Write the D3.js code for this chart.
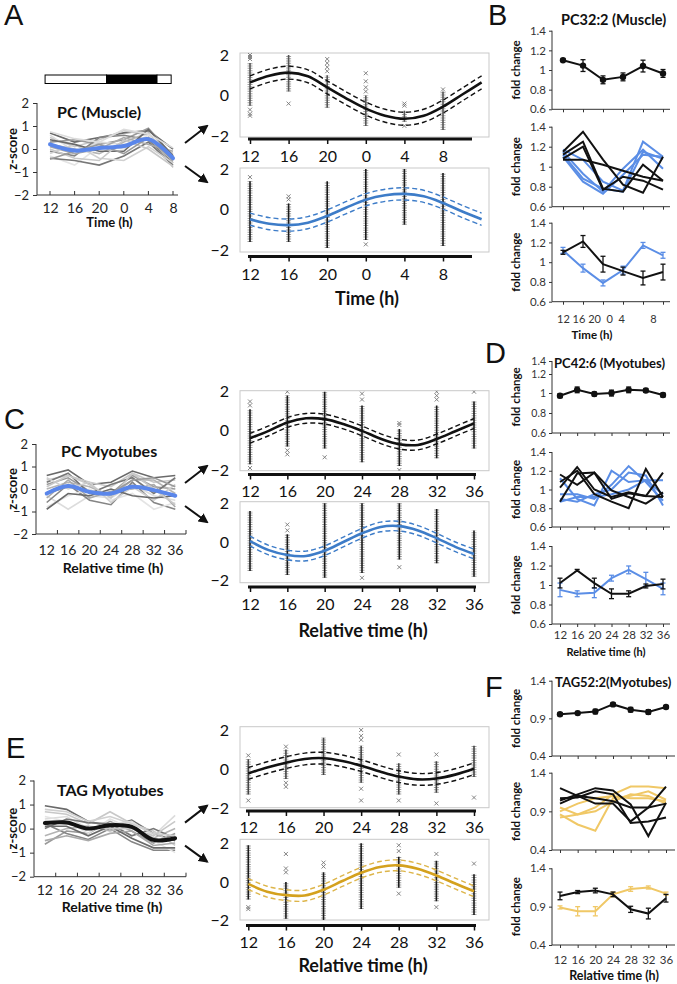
<!DOCTYPE html>
<html><head><meta charset="utf-8">
<script src="https://cdn.jsdelivr.net/npm/d3@7"></script>
<style>body{margin:0;background:#fff;} svg{display:block;}</style>
</head><body>
<script>
// ================= DATA =================
const hoursA = [12,16,20,24,28,32];
const hourLabelsA = ["12","16","20","0","4","8"];
const hoursMyo = [12,16,20,24,28,32,36];
const hourLabelsMyo = ["12","16","20","24","28","32","36"];
const fitHours = [12,14,16,18,20,22,24,26,28,30,32,34,36];

// light/dark bar (hours, relative scale of panel A)
const dayNight = [
  {phase:"light", from:11.2, to:21.2},
  {phase:"dark",  from:21.2, to:29.4},
  {phase:"light", from:29.4, to:31.7}
];

// ---- left panels: individual z-scored profiles + cluster mean ----
const grayA = [
  [0.7,0.3,0.5,0.7,0.8,0.0],[0.5,0.1,0.4,0.8,0.6,-0.2],[0.3,0.4,0.2,0.4,0.9,-0.3],
  [0.6,-0.1,0.3,0.2,0.5,-0.5],[-0.1,-0.3,0.5,0.6,0.4,-0.6],[0.2,0.0,-0.2,0.3,0.7,-0.8],
  [-0.3,-0.7,0.1,0.0,0.6,-0.4],[-0.4,-0.5,-0.7,-0.3,0.3,-0.7],[0.1,-0.2,0.0,0.5,0.2,-0.1],
  [-0.2,0.2,-0.4,-0.5,0.1,-0.6],[0.4,0.2,-0.1,-0.1,0.85,-0.3],[0.0,-0.4,-0.5,0.4,0.0,-0.75],
  [-0.45,-0.1,0.2,-0.2,0.5,-0.5],[0.75,0.45,0.3,0.85,0.65,0.05]
];
const meanA = [0.2,-0.07,0.04,0.13,0.43,-0.4];

const grayC = [
  [0.6,0.85,0.2,0.3,0.8,0.5,0.6],[0.4,0.6,0.3,0.1,0.7,0.3,0.4],[0.2,0.5,-0.1,-0.2,0.6,0.1,0.0],
  [-0.3,-0.9,-0.3,-0.4,0.2,-0.3,-0.5],[-0.6,0.2,-0.5,-0.7,0.3,-0.6,-0.9],[0.0,0.3,0.1,-0.3,0.4,0.4,-0.2],
  [-0.8,-0.3,0.0,-0.5,-0.2,-0.9,-0.6],[0.3,0.7,-0.2,0.2,0.5,-0.2,0.5],[-0.4,0.4,-0.4,-0.1,0.0,0.2,-0.8],
  [0.5,0.0,0.3,-0.6,0.1,-0.5,0.2],[-0.9,-0.2,-0.3,0.0,-0.3,-0.4,-0.3],[0.1,0.6,0.2,-0.4,0.7,0.0,-0.7],
  [-0.2,0.1,-0.1,-0.2,0.4,0.5,0.1]
];
const meanC = [-0.2,0.13,-0.13,-0.2,0.1,-0.05,-0.3];

const grayE = [
  [0.95,0.8,0.3,0.1,0.35,-0.2,-0.5],[0.7,0.6,0.2,0.7,0.2,-0.1,-0.7],[-0.65,-0.1,-0.2,0.3,-0.1,-0.6,-0.2],
  [0.4,0.5,0.0,0.2,0.3,-0.3,0.55],[0.2,-0.2,-0.45,0.0,-0.55,-0.9,-0.9],[-0.3,0.0,0.1,-0.1,0.1,-0.4,0.0],
  [0.5,0.3,-0.2,0.4,0.0,-0.5,-1.0],[0.0,0.4,0.25,0.2,-0.3,0.0,-0.4],[-0.5,-0.3,-0.5,-0.2,-0.1,-0.7,-0.6],
  [0.8,0.7,0.3,0.5,0.2,-0.2,-0.3],[0.1,0.1,-0.3,0.1,-0.4,-0.8,-0.8],[0.3,0.2,0.1,0.0,0.0,-0.3,0.3]
];
const meanE = [0.23,0.25,0.0,0.14,0.07,-0.47,-0.4];

// ---- middle panels: cosinor fits (read every 2 h), CI half-width, scatter columns ----
const fitA1 = [0.65,0.98,1.13,0.95,0.40,-0.15,-0.65,-1.0,-1.15,-1.0,-0.55,0.05,0.65];
const fitA2 = [-0.48,-0.70,-0.77,-0.65,-0.32,0.10,0.48,0.70,0.77,0.65,0.32,-0.10,-0.48];
const fitC1 = [-0.38,0.0,0.43,0.64,0.60,0.35,0.0,-0.40,-0.68,-0.72,-0.42,-0.02,0.38];
const fitC2 = [0.05,-0.42,-0.67,-0.72,-0.45,0.0,0.45,0.78,0.82,0.60,0.20,-0.25,-0.62];
const fitE1 = [-0.22,0.08,0.33,0.52,0.56,0.42,0.18,-0.12,-0.38,-0.52,-0.48,-0.28,0.02];
const fitE2 = [-0.10,-0.50,-0.68,-0.70,-0.40,0.05,0.48,0.78,0.86,0.68,0.34,-0.08,-0.48];
const ciA1 = 0.32, ciA2 = 0.3, ciC1 = 0.25, ciC2 = 0.25, ciE1 = 0.3, ciE2 = 0.28;

// dense range [low, high] per time point, and isolated points
const denseA1 = [[-0.5,1.6],[0.2,2.0],[-0.6,1.0],[-1.5,0.0],[-1.3,-0.75],[-1.7,0.2]];
const sparseA1 = [[2.0,1.9,1.8,-0.7,-0.9,-1.0],[-0.4],[1.8,1.6,1.4,1.2],[1.1,0.7,0.4,0.2],[-0.4,-0.5,-1.5],[0.3]];
const denseA2 = [[-1.6,1.4],[-1.6,0.3],[-1.9,1.4],[-1.5,2.0],[-0.75,2.0],[-1.8,1.8]];
const sparseA2 = [[1.6],[0.65,0.5],[],[-1.72],[],[]];
const denseC1 = [[-1.7,1.1],[-0.8,1.8],[-0.9,2.0],[-1.6,1.3],[-1.8,0.1],[-1.4,1.3],[-0.9,1.5]];
const sparseC1 = [[1.5,1.3,-1.9],[2.0,-1.0,-1.2],[-1.35],[1.9,1.6],[0.4,0.3,-2.0],[2.0,1.8,1.6],[2.0]];
const denseC2 = [[-1.5,1.6],[-1.7,0.4],[-1.85,2.0],[-1.6,2.0],[-0.9,2.0],[-1.1,1.7],[-1.8,0.6]];
const sparseC2 = [[],[0.9,0.6],[],[-1.85],[-1.3],[],[]];
const denseE1 = [[-1.3,0.5],[-0.5,1.0],[-0.3,1.6],[-0.7,1.2],[-1.3,0.3],[-1.2,0.4],[-0.4,1.2]];
const sparseE1 = [[0.7,-1.6],[1.15,-0.7,-0.9],[],[2.0,1.7,1.5,-1.0,-1.6],[0.75,-1.6],[0.75,-1.75],[-1.45]];
const denseE2 = [[-0.9,1.9],[-1.9,0.0],[-2.0,0.5],[-1.4,2.0],[-0.3,1.3],[-1.0,1.1],[-1.7,0.4]];
const sparseE2 = [[-1.4,-1.3],[1.45,0.7,0.5],[1.0,0.8],[],[1.9,1.6,-0.6],[1.45,-1.3],[0.95]];

// ---- right panels: fold change ----
const bTop = [1.10,1.045,0.90,0.93,1.04,0.965];
const bTopErr = [0.01,0.06,0.04,0.04,0.06,0.04];
const bMidBlack = [[1.07,1.07,1.02,0.96,0.90,0.86],[1.15,1.35,1.07,0.82,0.74,1.10],[1.12,1.25,0.78,0.75,1.02,0.86],[1.08,1.20,0.77,0.90,0.86,0.77]];
const bMidBlue = [[1.17,1.07,0.85,0.76,1.25,1.10],[1.15,0.93,0.75,0.98,1.17,0.98],[1.12,0.88,0.78,0.75,1.15,1.08],[1.10,0.85,0.73,0.92,1.12,1.10]];
const bBotBlack = [1.10,1.21,0.98,0.91,0.84,0.90];
const bBotBlackErr = [0.02,0.06,0.08,0.04,0.07,0.08];
const bBotBlue = [1.12,0.94,0.79,0.92,1.17,1.07];
const bBotBlueErr = [0.03,0.04,0.03,0.04,0.03,0.03];

const dTop = [0.973,1.033,0.99,1.0,1.033,1.027,0.98];
const dTopErr = [0.02,0.03,0.02,0.03,0.03,0.02,0.02];
const dMidBlack = [[1.02,1.24,1.00,0.92,0.97,0.93,0.92],[0.87,1.17,1.18,0.99,0.92,0.85,0.97],[1.08,1.20,0.95,0.87,0.80,1.22,0.92],[1.16,1.05,1.18,0.90,0.96,0.93,1.18]];
const dMidBlue = [[1.12,0.90,0.83,1.20,1.08,1.10,1.10],[0.95,0.95,0.90,1.05,1.25,1.08,0.88],[0.90,0.87,0.95,1.00,1.18,1.15,0.83],[0.87,0.92,0.92,0.95,1.00,1.10,0.95]];
const dBotBlack = [1.02,1.15,1.02,0.91,0.91,0.99,1.01];
const dBotBlackErr = [0.05,0.01,0.05,0.05,0.03,0.02,0.05];
const dBotBlue = [0.95,0.91,0.92,1.07,1.155,1.06,0.96];
const dBotBlueErr = [0.07,0.03,0.05,0.03,0.04,0.07,0.06];

const fTop = [0.955,0.97,0.99,1.085,1.015,0.985,1.05];
const fTopErr = [0.02,0.02,0.03,0.02,0.03,0.03,0.02];
const fMidBlack = [[1.20,1.10,1.00,1.00,0.77,0.95,1.22],[1.04,1.12,1.20,1.17,0.99,0.58,1.01],[1.07,1.08,1.16,1.12,0.75,0.77,0.82],[1.00,1.10,1.07,1.03,0.95,0.95,1.00]];
const fMidGold = [[0.95,0.86,0.95,1.12,1.22,1.22,1.20],[0.86,0.73,0.65,1.07,1.10,1.16,1.05],[0.82,0.86,0.90,1.03,1.12,1.10,1.00],[0.90,1.00,1.07,1.10,1.07,1.07,1.03]];
const fBotBlack = [1.04,1.09,1.11,1.06,0.865,0.81,1.01];
const fBotBlackErr = [0.05,0.02,0.03,0.03,0.04,0.07,0.05];
const fBotGold = [0.89,0.84,0.84,1.06,1.13,1.15,1.07];
const fBotGoldErr = [0.02,0.06,0.06,0.03,0.03,0.02,0.02];

const ticks14 = [0.6,0.8,1,1.2,1.4];
const ticks14F = [0.4,0.9,1.4];

// ================= DRAWING =================
const FONT = "Lato, 'Open Sans', sans-serif";
const svg = d3.select("body").append("svg").attr("width",677).attr("height",984)
  .style("font-family",FONT);

const grayPalette = ["#6a6a6a","#c8c8c8","#9a9a9a","#dcdcdc","#858585","#b4b4b4","#e4e4e4","#777","#aaa","#d0d0d0"];

svg.append("defs").append("marker").attr("id","ah").attr("viewBox","0 0 10 10")
  .attr("refX",8).attr("refY",5).attr("markerWidth",5).attr("markerHeight",5).attr("orient","auto")
  .append("path").attr("d","M0,0L10,5L0,10z").attr("fill","#111");

// panel letters
[["A",4,25],["B",488,25],["C",4,429],["D",485,363],["E",6,758],["F",485,697]].forEach(([t,x,y])=>{
  svg.append("text").attr("x",x).attr("y",y).text(t)
    .attr("font-family","'Liberation Sans', Arial, sans-serif").attr("font-size",29).attr("fill","#111");
});

function styleAxis(s, fs, col){
  s.select(".domain").remove();
  s.selectAll("text").attr("font-size",fs).attr("font-family",FONT).attr("fill",col||"#222");
  s.selectAll("line").attr("stroke","#333");
}

function leftPanel(o){
  const g = svg.append("g");
  const y = d3.scaleLinear().domain([-2,2]).range([o.yBot,o.yTop]);
  let xPos, tickXs, xs;
  if(o.band){
    xs = d3.scaleBand().domain(o.hours).range([o.axisX0,o.axisX1]);
    xPos = h => xs(h)+xs.bandwidth()/2;
    tickXs = o.hours.slice(1).map(h=>xs(h)).concat([o.axisX1]);
  } else {
    xs = d3.scalePoint().domain(o.hours).range(o.pointRange);
    xPos = xs; tickXs = o.hours.map(xs);
  }
  // x labels
  g.append("g").attr("transform",`translate(0,${o.yBot})`)
    .call(d3.axisBottom(xs).tickSize(0).tickPadding(o.pad).tickFormat((d,i)=>o.labels[i]))
    .call(s=>styleAxis(s,14));
  // axes lines
  g.append("line").attr("x1",o.axisX0).attr("x2",o.axisX1).attr("y1",o.yBot).attr("y2",o.yBot).attr("stroke","#333").attr("stroke-width",1);
  g.selectAll(".xt").data(tickXs).join("line").attr("x1",d=>d).attr("x2",d=>d)
    .attr("y1",o.yBot).attr("y2",o.yBot-4).attr("stroke","#333");
  g.append("g").attr("transform",`translate(${o.axisX0},0)`)
    .call(d3.axisLeft(y).tickValues([-2,-1,0,1,2]).tickSize(4).tickPadding(4).tickFormat(d3.format("d")))
    .call(s=>styleAxis(s,13));
  g.append("line").attr("x1",o.axisX0).attr("x2",o.axisX0).attr("y1",o.yTop).attr("y2",o.yBot).attr("stroke","#333");
  // lines
  const line = d3.line().x((d,i)=>xPos(o.hours[i])).y(d=>y(d));
  g.selectAll(".gl").data(o.gray).join("path").attr("d",line).attr("fill","none")
    .attr("stroke",(d,i)=>grayPalette[i%grayPalette.length]).attr("stroke-width",1.6);
  g.append("path").attr("d",line.curve(d3.curveCatmullRom)(o.mean)).attr("fill","none")
    .attr("stroke",o.meanColor).attr("stroke-width",4).attr("stroke-linecap","round");
  // texts
  g.append("text").attr("x",o.titleX).attr("y",o.titleY).text(o.title)
    .attr("font-weight","bold").attr("font-size",16).attr("fill","#111");
  g.append("text").attr("transform",`translate(${o.zx},${y(0)}) rotate(-90)`).attr("text-anchor","middle")
    .attr("dy","0.35em").text("z-score").attr("font-weight","bold").attr("font-size",13).attr("fill","#111");
  g.append("text").attr("x",(o.axisX0+o.axisX1)/2+2).attr("y",o.xTitleY).attr("text-anchor","middle")
    .text(o.xTitle).attr("font-weight","bold").attr("font-size",o.xTitleSize).attr("fill","#111");
  // arrows to the two fitted clusters
  const y0 = y(0);
  [[-6,-23],[17,33]].forEach(([a,b])=>{
    g.append("line").attr("x1",185).attr("y1",y0+a).attr("x2",207).attr("y2",y0+b)
      .attr("stroke","#111").attr("stroke-width",2).attr("marker-end","url(#ah)");
  });
  return {xs,y};
}

let clipId = 0;
function midPanel(o){
  const g = svg.append("g");
  const [bx0,by0,bx1,by1] = o.box;
  const y = d3.scaleLinear().domain([-2,2]).range([o.ym2,o.y2]);
  const x = d3.scaleLinear().domain(o.xDomain).range(o.xRange);
  const id = "clip"+(clipId++);
  svg.append("clipPath").attr("id",id).append("rect").attr("x",bx0).attr("y",by0).attr("width",bx1-bx0).attr("height",by1-by0);
  g.append("rect").attr("x",bx0).attr("y",by0).attr("width",bx1-bx0).attr("height",by1-by0)
    .attr("fill","none").attr("stroke","#c9c9c9").attr("stroke-width",1);
  // y labels
  g.append("g").attr("transform",`translate(${bx0},0)`)
    .call(d3.axisLeft(y).tickValues([-2,0,2]).tickSize(0).tickPadding(11).tickFormat(d3.format("d")))
    .call(s=>styleAxis(s,16,"#111"));
  const inner = g.append("g").attr("clip-path",`url(#${id})`);
  // scatter
  o.hours.forEach((h,i)=>{
    const [lo,hi] = o.dense[i];
    inner.append("line").attr("x1",x(h)).attr("x2",x(h)).attr("y1",y(lo)).attr("y2",y(hi))
      .attr("stroke","#8a8a8a").attr("stroke-width",5).attr("stroke-dasharray","1,1.3").attr("opacity",0.8);
    inner.append("line").attr("x1",x(h)).attr("x2",x(h)).attr("y1",y(lo)).attr("y2",y(hi))
      .attr("stroke",o.core||"#1a1a1a").attr("stroke-width",1.6);
    inner.selectAll(null).data(o.sparse[i]).join("path")
      .attr("transform",d=>`translate(${x(h)},${y(d)})`).attr("d","M-2,-2L2,2M-2,2L2,-2")
      .attr("stroke","#777").attr("stroke-width",0.9);
  });
  // fit + CI
  const ln = off => d3.line().curve(d3.curveCatmullRom).x((d,i)=>x(fitHours[i])).y(d=>y(d+off));
  inner.append("path").attr("d",ln(o.ci)(o.fit)).attr("fill","none").attr("stroke",o.dashColor||o.color)
    .attr("stroke-width",1.4).attr("stroke-dasharray","5,3");
  inner.append("path").attr("d",ln(-o.ci)(o.fit)).attr("fill","none").attr("stroke",o.dashColor||o.color)
    .attr("stroke-width",1.4).attr("stroke-dasharray","5,3");
  inner.append("path").attr("d",ln(0)(o.fit)).attr("fill","none").attr("stroke",o.color).attr("stroke-width",2.6);
  // x axis bar
  g.append("line").attr("x1",o.bar[0]).attr("x2",o.bar[1]).attr("y1",o.barY).attr("y2",o.barY)
    .attr("stroke","#111").attr("stroke-width",3);
  g.append("g").attr("transform",`translate(0,${o.barY})`)
    .call(d3.axisBottom(x).tickValues(o.hours).tickSize(5).tickPadding(o.pad).tickFormat((d,i)=>o.labels[i]))
    .call(s=>{styleAxis(s,16,"#111"); s.selectAll("line").attr("stroke","#111").attr("stroke-width",1.5);});
  if(o.xTitle){
    g.append("text").attr("x",o.xTitleX).attr("y",o.xTitleY).attr("text-anchor","middle").text(o.xTitle)
      .attr("font-weight","bold").attr("font-size",18).attr("fill","#111");
  }
}

const AXR = 552;
function foldPlot(o){
  const g = svg.append("g");
  const y = d3.scaleLinear().domain(o.yDomain).range(o.yRange);
  const x = d3.scalePoint().domain(d3.range(o.n)).range(o.xRange);
  const yTop = d3.min(o.yRange), yBot = d3.max(o.yRange);
  g.append("g").attr("transform",`translate(${AXR},0)`)
    .call(d3.axisLeft(y).tickValues(o.ticks).tickSize(3).tickPadding(3).tickFormat(d=>String(d)))
    .call(s=>styleAxis(s,o.tickSize||11.5,"#333"));
  g.append("line").attr("x1",AXR).attr("x2",AXR).attr("y1",yTop).attr("y2",yBot).attr("stroke","#333");
  g.append("line").attr("x1",AXR).attr("x2",o.xEnd).attr("y1",yBot).attr("y2",yBot).attr("stroke","#333");
  g.append("g").attr("transform",`translate(0,${yBot})`)
    .call(d3.axisBottom(x).tickSize(3).tickPadding(o.pad||4).tickFormat((d,i)=>o.labels?o.labels[i]:""))
    .call(s=>styleAxis(s,11.5,"#333"));
  g.append("text").attr("transform",`translate(516,${(yTop+yBot)/2}) rotate(-90)`).attr("text-anchor","middle")
    .attr("dy","0.35em").text("fold change").attr("font-weight","bold").attr("font-size",11.5).attr("fill","#111");
  const line = d3.line().x((d,i)=>x(i)).y(d=>y(d));
  o.series.forEach(s=>{
    g.append("path").attr("d",line(s.vals)).attr("fill","none").attr("stroke",s.color).attr("stroke-width",s.width||2);
    if(s.err){
      s.vals.forEach((v,i)=>{
        const e = s.err[i];
        g.append("line").attr("x1",x(i)).attr("x2",x(i)).attr("y1",y(v-e)).attr("y2",y(v+e)).attr("stroke",s.color).attr("stroke-width",1.3);
        [v-e,v+e].forEach(w=>g.append("line").attr("x1",x(i)-2.5).attr("x2",x(i)+2.5).attr("y1",y(w)).attr("y2",y(w)).attr("stroke",s.color).attr("stroke-width",1.3));
      });
    }
    if(s.marker){
      g.selectAll(null).data(s.vals).join("circle").attr("cx",(d,i)=>x(i)).attr("cy",d=>y(d)).attr("r",3.2).attr("fill",s.color);
    }
  });
  if(o.title){
    g.append("text").attr("x",o.titleX).attr("y",o.titleY).text(o.title).attr("font-weight","bold")
      .attr("font-size",o.titleSize).attr("fill","#111");
  }
  if(o.xTitle){
    g.append("text").attr("x",o.xTitleX).attr("y",o.xTitleY).attr("text-anchor","middle").text(o.xTitle)
      .attr("font-weight","bold").attr("font-size",o.xTitleSize).attr("fill","#111");
  }
  return {x,y};
}

// ---------- Panel A ----------
leftPanel({hours:hoursA, labels:hourLabelsA, band:false, pointRange:[50,173], axisX0:37, axisX1:178,
  yTop:103, yBot:195, pad:8, gray:grayA, mean:meanA, meanColor:"#5a86ea",
  title:"PC (Muscle)", titleX:57, titleY:118, zx:12, xTitle:"Time (h)", xTitleY:227, xTitleSize:13});
// light/dark bar
const barX = d3.scaleLinear().domain([12,32]).range([50,173]);
svg.selectAll(".dn").data(dayNight).join("rect").attr("x",d=>barX(d.from)).attr("y",75)
  .attr("width",d=>barX(d.to)-barX(d.from)).attr("height",8.5)
  .attr("fill",d=>d.phase==="dark"?"#000":"#fff").attr("stroke","#000").attr("stroke-width",1);

midPanel({box:[240,53,489,137], y2:55, ym2:136, xDomain:[12,32], xRange:[250,443], hours:hoursA, labels:hourLabelsA,
  dense:denseA1, sparse:sparseA1, fit:fitA1, ci:ciA1, color:"#111", core:"#555", bar:[248,472], barY:139, pad:7});
midPanel({box:[240,168,489,252], y2:169, ym2:250, xDomain:[12,32], xRange:[250,443], hours:hoursA, labels:hourLabelsA,
  dense:denseA2, sparse:sparseA2, fit:fitA2, ci:ciA2, color:"#3d7cc8", bar:[248,472], barY:256.5, pad:7,
  xTitle:"Time (h)", xTitleX:367, xTitleY:305});

// ---------- Panel B ----------
foldPlot({n:6, xRange:[563,663], xEnd:670, yDomain:[0.6,1.4], yRange:[109.3,30.7], ticks:ticks14,
  series:[{vals:bTop, err:bTopErr, color:"#111", marker:true}],
  title:"PC32:2 (Muscle)", titleX:561, titleY:25, titleSize:14.5});
foldPlot({n:6, xRange:[563,663], xEnd:670, yDomain:[0.6,1.4], yRange:[206.7,126.7], ticks:ticks14,
  series:[...bMidBlue.map(v=>({vals:v,color:"#5b8ee6"})), ...bMidBlack.map(v=>({vals:v,color:"#111"}))]});
foldPlot({n:6, xRange:[563,663], xEnd:670, yDomain:[0.6,1.4], yRange:[301.7,222.7], ticks:ticks14,
  series:[{vals:bBotBlue, err:bBotBlueErr, color:"#5b8ee6"},{vals:bBotBlack, err:bBotBlackErr, color:"#111"}],
  xTitle:"Time (h)", xTitleX:592, xTitleY:338.5, xTitleSize:11.5});
svg.append("text").attr("x",557).attr("y",322.5).attr("xml:space","preserve").style("white-space","pre")
  .text(hourLabelsA.slice(0,5).join(" ").replace(" 0 ","  0  ") + "         " + hourLabelsA[5])
  .attr("font-size",11).attr("fill","#333");

// ---------- Panel C ----------
leftPanel({hours:hoursMyo, labels:hourLabelsMyo, band:true, axisX0:36, axisX1:186,
  yTop:444, yBot:534, pad:11, gray:grayC, mean:meanC, meanColor:"#5a86ea",
  title:"PC Myotubes", titleX:61, titleY:457, zx:12, xTitle:"Relative time (h)", xTitleY:573, xTitleSize:14});
midPanel({box:[240,390.7,489,470.7], y2:391.7, ym2:470, xDomain:[12,36], xRange:[250,474], hours:hoursMyo, labels:hourLabelsMyo,
  dense:denseC1, sparse:sparseC1, fit:fitC1, ci:ciC1, color:"#111", bar:[248,476], barY:474.5, pad:6});
midPanel({box:[240,501.7,489,582.7], y2:503.3, ym2:580.7, xDomain:[12,36], xRange:[250,474], hours:hoursMyo, labels:hourLabelsMyo,
  dense:denseC2, sparse:sparseC2, fit:fitC2, ci:ciC2, color:"#3d7cc8", bar:[248,476], barY:587, pad:7,
  xTitle:"Relative time (h)", xTitleX:363, xTitleY:637});

// ---------- Panel D ----------
foldPlot({n:7, xRange:[560,663], xEnd:670, yDomain:[0.6,0.8,1,1.2,1.4], yRange:[433,413,393,374,361], ticks:ticks14, tickSize:10.5,
  series:[{vals:dTop, err:dTopErr, color:"#111", marker:true}],
  title:"PC42:6 (Myotubes)", titleX:554, titleY:368, titleSize:13});
foldPlot({n:7, xRange:[560,663], xEnd:670, yDomain:[0.6,1.4], yRange:[527,452], ticks:ticks14,
  series:[...dMidBlue.map(v=>({vals:v,color:"#5b8ee6"})), ...dMidBlack.map(v=>({vals:v,color:"#111"}))]});
foldPlot({n:7, xRange:[560,663], xEnd:670, yDomain:[0.6,1.4], yRange:[624,546], ticks:ticks14,
  series:[{vals:dBotBlue, err:dBotBlueErr, color:"#5b8ee6"},{vals:dBotBlack, err:dBotBlackErr, color:"#111"}],
  labels:hourLabelsMyo, pad:4, xTitle:"Relative time (h)", xTitleX:606, xTitleY:656, xTitleSize:11});

// ---------- Panel E ----------
leftPanel({hours:hoursMyo, labels:hourLabelsMyo, band:true, axisX0:34, axisX1:186,
  yTop:780.5, yBot:876.7, pad:8, gray:grayE, mean:meanE, meanColor:"#111",
  title:"TAG Myotubes", titleX:57, titleY:796, zx:12, xTitle:"Relative time (h)", xTitleY:912, xTitleSize:14});
midPanel({box:[240,726.7,489,807.7], y2:730, ym2:808.3, xDomain:[12,36], xRange:[248.3,474], hours:hoursMyo, labels:hourLabelsMyo,
  dense:denseE1, sparse:sparseE1, fit:fitE1, ci:ciE1, color:"#111", core:"#444", bar:[246,476], barY:811, pad:6});
midPanel({box:[240,839.3,489,920], y2:843.3, ym2:920.7, xDomain:[12,36], xRange:[248.3,474], hours:hoursMyo, labels:hourLabelsMyo,
  dense:denseE2, sparse:sparseE2, fit:fitE2, ci:ciE2, color:"#d4a11e", dashColor:"#ddb54a", bar:[246,476], barY:925.5, pad:6,
  xTitle:"Relative time (h)", xTitleX:363, xTitleY:972});

// ---------- Panel F ----------
foldPlot({n:7, xRange:[560,666], xEnd:675, yDomain:[0.4,1.4], yRange:[756,680.7], ticks:ticks14F,
  series:[{vals:fTop, err:fTopErr, color:"#111", marker:true}],
  title:"TAG52:2(Myotubes)", titleX:555, titleY:687, titleSize:13});
foldPlot({n:7, xRange:[560,666], xEnd:675, yDomain:[0.4,1.4], yRange:[850,772.7], ticks:ticks14F,
  series:[...fMidGold.map(v=>({vals:v,color:"#f0c866"})), ...fMidBlack.map(v=>({vals:v,color:"#111"}))]});
foldPlot({n:7, xRange:[560,666], xEnd:675, yDomain:[0.4,1.4], yRange:[945,868.3], ticks:ticks14F,
  series:[{vals:fBotGold, err:fBotGoldErr, color:"#f0c866"},{vals:fBotBlack, err:fBotBlackErr, color:"#111"}],
  labels:hourLabelsMyo, pad:8, xTitle:"Relative time (h)", xTitleX:614, xTitleY:980, xTitleSize:12.5});
</script>
</body></html>
